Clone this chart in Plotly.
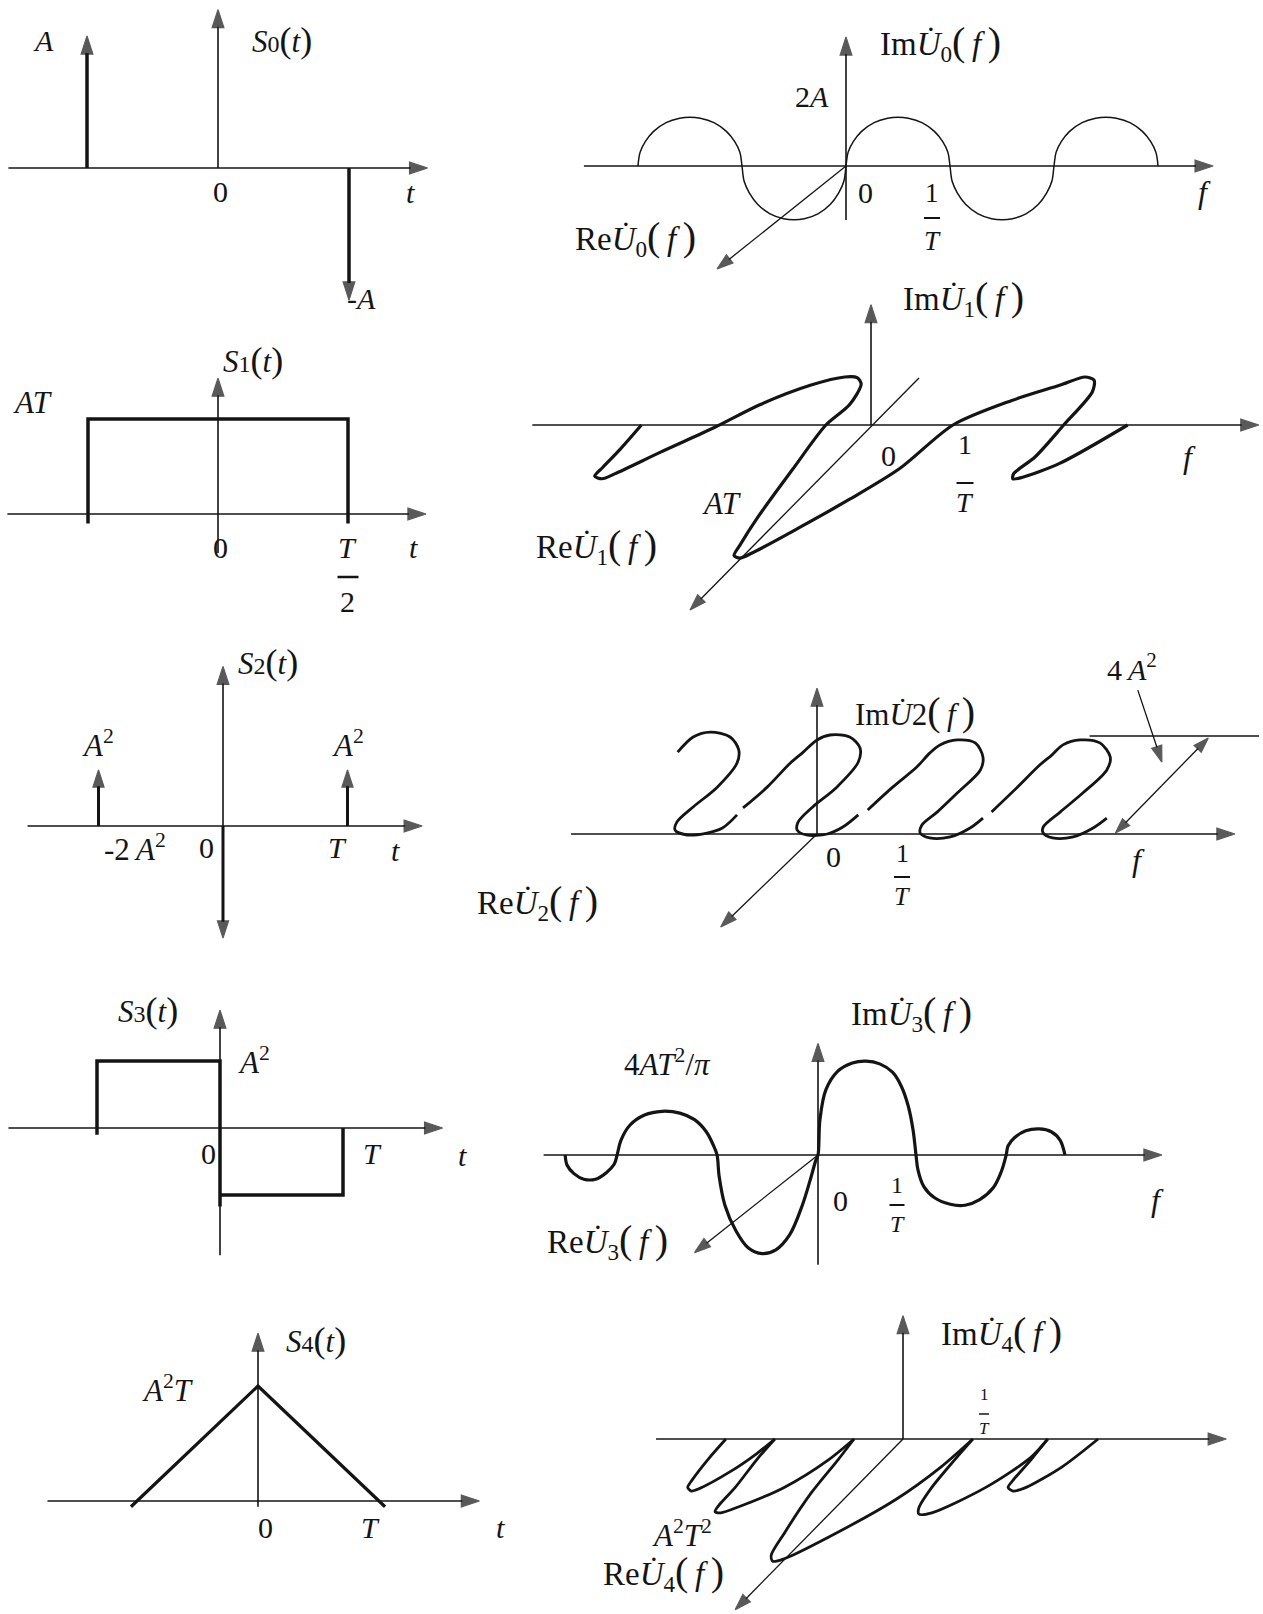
import plotly.graph_objects as go

W, H = 1263, 1614
SERIF = "Liberation Serif"
INK = "#141414"

# ---------------- time-domain signals (t in units of T) ----------------
s0_t = [-1.0, 1.0]                 # impulse instants
s0_w = [1.0, -1.0]                 # impulse weights, units of A

s1_t = [-0.5, -0.5, 0.5, 0.5]      # rectangular pulse corners
s1_v = [-0.1, 1.0, 1.0, -0.1]      # units of AT

s2_t = [-1.0, 0.0, 1.0]
s2_w = [1.0, -2.0, 1.0]            # units of A^2

s3_t = [-1.0, -1.0, 0.0, 0.0, 0.0, 1.0, 1.0]
s3_v = [-0.1, 1.0, 1.0, -1.17, -1.0, -1.0, 0.0]   # units of A^2

s4_t = [-1.05, 0.0, 1.05]
s4_v = [-0.05, 1.0, -0.05]         # units of A^2 T

# ---------------- spectra (f in units of 1/T) ----------------
# U0: alternating half-waves between the zeros
u0_starts = [-2.0, -1.0, 0.0, 1.0, 2.0]
u0_peaks = [1.95, -2.15, 1.95, -2.15, 1.95]       # units of A
u0_arc_u = [0.0, 0.02, 0.07, 0.15, 0.27, 0.40, 0.50, 0.60, 0.73, 0.85, 0.93, 0.98, 1.0]
u0_arc_h = [0.0, 0.28, 0.50, 0.71, 0.89, 0.98, 1.00, 0.98, 0.89, 0.71, 0.50, 0.28, 0.0]

# U1: sinc-type curve drawn in the oblique (f, Re) plane
u1_f = [-2.80, -3.06, -3.27, -3.37, -3.28, -3.12, -2.56, -1.91, -1.35, -0.74,
        -0.32, -0.17, -0.12, -0.26, -0.55, -0.96, -1.38, -1.60, -1.67, -1.60,
        -1.45, -0.87, -0.26, 0.35, 1.00, 1.71, 2.30, 2.61, 2.72, 2.70,
        2.35, 2.00, 1.74, 1.73, 1.84, 2.30, 3.13]
u1_v = [0.00, -0.19, -0.33, -0.40, -0.42, -0.38, -0.21, -0.02, 0.16, 0.31,
        0.375, 0.37, 0.32, 0.16, 0.00, -0.35, -0.72, -0.94, -1.02, -1.04,
        -1.00, -0.80, -0.58, -0.34, 0.00, 0.19, 0.31, 0.375, 0.35, 0.26,
        0.00, -0.25, -0.38, -0.42, -0.41, -0.30, 0.00]

# U2: helix coils (gaps where the curve passes behind)
u2_f = [-1.62, -1.44, -1.24, -1.01, -0.91, -0.93, -1.16, -1.44, -1.63, -1.65, -1.51, -1.28, -1.10, -0.93, None,
        -0.86, -0.58, -0.31, -0.16, 0.00, 0.15, 0.38, 0.50, 0.48, 0.23, -0.05, -0.22, -0.23, -0.12, 0.12, 0.30, 0.48, None,
        0.59, 0.88, 1.16, 1.31, 1.43, 1.63, 1.84, 1.93, 1.90, 1.63, 1.40, 1.22, 1.20, 1.31, 1.55, 1.78, 1.93, None,
        2.03, 2.33, 2.59, 2.73, 2.86, 3.06, 3.29, 3.41, 3.37, 3.09, 2.83, 2.63, 2.63, 2.74, 2.98, 3.21, 3.37]
u2_v = [2.48, 2.94, 3.09, 2.94, 2.55, 2.15, 1.42, 0.82, 0.36, 0.12, -0.03, 0.03, 0.18, 0.58, None,
        0.79, 1.42, 2.15, 2.48, 2.85, 3.00, 2.94, 2.61, 2.18, 1.42, 0.82, 0.36, 0.12, -0.03, 0.00, 0.21, 0.58, None,
        0.73, 1.42, 2.03, 2.45, 2.70, 2.85, 2.76, 2.33, 1.94, 1.24, 0.67, 0.27, 0.03, -0.12, -0.09, 0.18, 0.48, None,
        0.67, 1.42, 2.09, 2.39, 2.70, 2.85, 2.76, 2.33, 1.94, 1.24, 0.67, 0.21, 0.03, -0.12, -0.09, 0.18, 0.48]
u2_ref_f = [3.17, 5.14]            # level of the coil tops
u2_ref_v = [2.97, 2.97]

# U3: imaginary spectrum, units of 4AT^2/pi
u3_f = [-2.58, -2.56, -2.49, -2.39, -2.27, -2.16, -2.08, -2.05,
        -2.01, -1.92, -1.77, -1.59, -1.41, -1.26, -1.14, -1.07, -1.03,
        -1.01, -0.95, -0.84, -0.71, -0.57, -0.43, -0.29, -0.16, -0.08, -0.02, 0.00,
        0.02, 0.08, 0.20, 0.35, 0.49, 0.63, 0.76, 0.85, 0.92, 0.97, 1.00,
        1.02, 1.08, 1.19, 1.35, 1.50, 1.65, 1.79, 1.87, 1.92,
        1.94, 2.01, 2.12, 2.26, 2.38, 2.47, 2.52]
u3_v = [0.00, -0.11, -0.20, -0.26, -0.26, -0.19, -0.10, 0.00,
        0.16, 0.32, 0.43, 0.47, 0.45, 0.38, 0.25, 0.11, 0.00,
        -0.22, -0.54, -0.81, -1.00, -1.06, -1.02, -0.86, -0.54, -0.27, -0.05, 0.00,
        0.38, 0.70, 0.90, 0.99, 1.01, 0.98, 0.89, 0.74, 0.53, 0.27, 0.00,
        -0.16, -0.34, -0.46, -0.53, -0.54, -0.48, -0.35, -0.18, 0.00,
        0.10, 0.19, 0.26, 0.28, 0.25, 0.16, 0.00]

# U4: sinc^2 lobes in the oblique (f, Re) plane, units of A^2 T^2
u4_f = [-2.46, -2.71, -2.93, -2.99, -2.94, -2.83, -2.40, -2.03, -1.78, None,
        -1.78, -2.03, -2.33, -2.56, -2.61, -2.53, -2.28, -1.65, -1.03, -0.68, None,
        -0.68, -0.90, -1.28, -1.65, -1.83, -1.81, -1.65, -1.03, -0.10, 0.53, 0.97, None,
        0.97, 0.72, 0.40, 0.22, 0.22, 0.40, 1.15, 1.78, 2.01, None,
        2.01, 1.78, 1.53, 1.46, 1.53, 1.71, 2.21, 2.71]
u4_v = [0.00, -0.17, -0.34, -0.40, -0.43, -0.41, -0.27, -0.12, 0.00, None,
        0.00, -0.17, -0.40, -0.55, -0.60, -0.61, -0.56, -0.40, -0.17, 0.00, None,
        0.00, -0.17, -0.45, -0.78, -0.96, -1.01, -0.99, -0.81, -0.50, -0.23, 0.00, None,
        0.00, -0.17, -0.40, -0.57, -0.62, -0.61, -0.40, -0.15, 0.00, None,
        0.00, -0.17, -0.34, -0.40, -0.43, -0.40, -0.23, 0.00]

# ---------------- panel frames: origin pixel and pixels per unit ----------------
PANELS = ["L0", "L1", "L2", "L3", "L4", "R0", "R1", "R2", "R3", "R4"]
FRAME = {
    "L0": (218, 168, 131, 132),
    "L1": (218, 514, 260, 95),
    "L2": (223, 826, 124.5, 56),
    "L3": (220, 1128, 123, 67),
    "L4": (258, 1501, 121, 115),
    "R0": (846, 166, 104, 25),
    "R1": (871, 425, 82, 128),
    "R2": (817, 834, 86, 33),
    "R3": (818, 1155, 98, 93),
    "R4": (903, 1439, 72, 121),
}
AX = {}
layout_axes = {}
for i, name in enumerate(PANELS, start=1):
    xa = "x" if i == 1 else f"x{i}"
    ya = "y" if i == 1 else f"y{i}"
    AX[name] = (xa, ya)
    ox, oy, sx, sy = FRAME[name]
    layout_axes["xaxis" if i == 1 else f"xaxis{i}"] = dict(
        domain=[0, 1], range=[-ox / sx, (W - ox) / sx], visible=False,
        fixedrange=True, anchor=ya)
    layout_axes["yaxis" if i == 1 else f"yaxis{i}"] = dict(
        domain=[0, 1], range=[-(H - oy) / sy, oy / sy], visible=False,
        fixedrange=True, anchor=xa)

fig = go.Figure()


def curve(panel, xs, ys, width=3.4, spline=False, smoothing=1.0):
    xa, ya = AX[panel]
    line = dict(color=INK, width=width)
    if spline:
        line.update(shape="spline", smoothing=smoothing)
    fig.add_trace(go.Scatter(x=xs, y=ys, mode="lines", line=line,
                             xaxis=xa, yaxis=ya, hoverinfo="skip",
                             showlegend=False))


def arrow(panel, x0, y0, x1, y1, width=1.6, head=19):
    """Line from (x0, y0) with an arrow head whose tip sits on (x1, y1)."""
    xa, ya = AX[panel]
    fig.add_trace(go.Scatter(
        x=[x0, x1], y=[y0, y1], mode="lines+markers",
        line=dict(color=INK, width=width),
        marker=dict(symbol="arrow", size=[0, head], angleref="previous",
                    color=INK, line=dict(color=INK, width=1.2)),
        xaxis=xa, yaxis=ya, hoverinfo="skip", showlegend=False))


def arrow_both(panel, x0, y0, x1, y1, width=1.3, head=16):
    xm, ym = (x0 + x1) / 2, (y0 + y1) / 2
    arrow(panel, xm, ym, x0, y0, width, head)
    arrow(panel, xm, ym, x1, y1, width, head)


annotations = []
shapes = []


def text(px, py, s, size=30):
    annotations.append(dict(
        x=px / W, y=1 - py / H, xref="paper", yref="paper", text=s,
        showarrow=False, xanchor="center", yanchor="middle",
        font=dict(family=SERIF, size=size, color=INK)))


def frac(px, py_num, py_bar, py_den, num, den, size=28, bar=18, bw=2.0):
    text(px, py_num, num, size)
    text(px, py_den, den, size)
    shapes.append(dict(type="line", xref="paper", yref="paper",
                       x0=(px - bar / 2) / W, x1=(px + bar / 2) / W,
                       y0=1 - py_bar / H, y1=1 - py_bar / H,
                       line=dict(color=INK, width=bw)))


TH = "\u2009"


def big(ch, size=40):
    return f"<span style='font-size:{size}px'>{ch}</span>"


def s_label(k):
    return (f"<i>S</i><span style='font-size:24px'>{k}</span>"
            f"{big('(', 36)}<i>t</i>{big(')', 36)}")


def spec_label(part, k, sub=True):
    idx = f"<sub>{k}</sub>" if sub else k
    return f"{part}<i>U\u0307</i>{idx}{big('(')}{TH}<i>f</i>{TH}{big(')')}"


# ================= S0(t) =================
arrow("L0", -1.60, 0, 1.60, 0)
arrow("L0", 0, 0, 0, 1.20)
for t, w in zip(s0_t, s0_w):
    arrow("L0", t, 0, t, w, width=3.5, head=19)
text(43, 40, "<i>A</i>")
text(282, 40, s_label("0"), 31)
text(220, 192, "0")
text(410, 193, "<i>t</i>")
text(362, 298, "-<i>A</i>")

# ================= S1(t) =================
arrow("L1", -0.81, 0, 0.80, 0)
arrow("L1", 0, -0.41, 0, 1.43)
curve("L1", s1_t, s1_v, width=3.5)
text(33, 402, "<i>AT</i>", 31)
text(253, 360, s_label("1"), 31)
text(220, 547, "0")
frac(348, 547, 577, 601, "<i>T</i>", "2", 30, bar=21, bw=2.5)
text(413, 547, "<i>t</i>")

# ================= S2(t) =================
arrow("L2", -1.57, 0, 1.60, 0)
arrow("L2", 0, 0, 0, 2.85)
for t, w in zip(s2_t, s2_w):
    arrow("L2", t, 0, t, w, width=3.0, head=18)
text(98, 744, "<i>A</i><sup>2</sup>", 31)
text(348, 744, "<i>A</i><sup>2</sup>", 31)
text(268, 662, s_label("2"), 31)
text(135, 847, "-2" + TH + "<i>A</i><sup>2</sup>", 31)
text(206, 847, "0")
text(337, 847, "<i>T</i>")
text(395, 850, "<i>t</i>")

# ================= S3(t) =================
arrow("L3", -1.72, 0, 1.81, 0)
arrow("L3", 0, -1.90, 0, 1.76)
curve("L3", s3_t, s3_v, width=3.5)
text(148, 1010, s_label("3"), 31)
text(254, 1060, "<i>A</i><sup>2</sup>", 31)
text(209, 1153, "0")
text(372, 1153, "<i>T</i>")
text(462, 1155, "<i>t</i>")

# ================= S4(t) =================
arrow("L4", -1.74, 0, 1.83, 0)
arrow("L4", 0, -0.05, 0, 1.46)
curve("L4", s4_t, s4_v, width=3.2)
text(316, 1340, s_label("4"), 31)
text(168, 1388, "<i>A</i><sup>2</sup><i>T</i>", 31)
text(265, 1527, "0")
text(370, 1527, "<i>T</i>")
text(500, 1527, "<i>t</i>")

# ================= U0(f) =================
u0_f, u0_v = [], []
for k, (f0, pk) in enumerate(zip(u0_starts, u0_peaks)):
    for j, (du, h) in enumerate(zip(u0_arc_u, u0_arc_h)):
        if k > 0 and j == 0:
            continue
        u0_f.append(f0 + du)
        u0_v.append(pk * h)
arrow("R0", -2.52, 0, 3.53, 0)
arrow("R0", 0, -2.16, 0, 5.16)
arrow("R0", 0, 0, -1.24, -4.12, width=1.3, head=17)
curve("R0", u0_f, u0_v, width=1.5, spline=True)
text(940, 43, spec_label("Im", "0"), 33)
text(812, 97, "2<i>A</i>", 30)
text(865, 193, "0")
frac(932, 193, 218, 241, "1", "<i>T</i>", 27, bar=16)
text(1204, 192, "<i>f</i>", 32)
text(635, 238, spec_label("Re", "0"), 33)

# ================= U1(f) =================
arrow("R1", -4.13, 0, 4.73, 0)
arrow("R1", 0, 0, 0, 0.94)
arrow("R1", 0.585, 0.367, -2.207, -1.445, width=1.3, head=17)
curve("R1", u1_f, u1_v, width=3.2, spline=True, smoothing=0.8)
text(963, 298, spec_label("Im", "1"), 33)
text(888, 455, "0")
frac(965, 444, 483, 502, "1", "<i>T</i>", 28, bar=17)
text(1189, 457, "<i>f</i>", 32)
text(722, 503, "<i>AT</i>", 31)
text(596, 546, spec_label("Re", "1"), 33)

# ================= U2(f) =================
arrow("R2", -2.86, 0, 4.86, 0)
arrow("R2", 0, 0, 0, 4.42)
arrow("R2", 0, 0, -1.12, -2.82, width=1.3, head=17)
curve("R2", u2_f, u2_v, width=2.8, spline=True, smoothing=0.9)
curve("R2", u2_ref_f, u2_ref_v, width=1.6)
arrow_both("R2", 3.47, 0.03, 4.55, 2.91)
arrow("R2", 3.73, 4.36, 4.01, 2.18, width=1.3, head=17)
text(915, 711, spec_label("Im", "2", sub=False), 31)
text(833, 856, "0")
frac(902, 853, 877, 896, "1", "<i>T</i>", 26, bar=16)
text(1138, 860, "<i>f</i>", 32)
text(537, 902, spec_label("Re", "2"), 33)
text(1132, 667, "4" + TH + "<i>A</i><sup>2</sup>", 30)

# ================= U3(f) =================
arrow("R3", -2.80, 0, 3.51, 0)
arrow("R3", 0, -1.18, 0, 1.20)
arrow("R3", 0, 0, -1.26, -1.05, width=1.3, head=17)
curve("R3", u3_f, u3_v, width=3.2, spline=True, smoothing=1.0)
text(911, 1013, spec_label("Im", "3"), 33)
text(668, 1062, "4<i>AT</i><sup>2</sup>/<i>\u03c0</i>", 31)
text(840, 1200, "0")
frac(897, 1185, 1205, 1224, "1", "<i>T</i>", 24, bar=15)
text(1157, 1200, "<i>f</i>", 32)
text(607, 1241, spec_label("Re", "3"), 33)

# ================= U4(f) =================
arrow("R4", -3.43, 0, 4.49, 0)
arrow("R4", 0, 0, 0, 1.02)
arrow("R4", 0, 0, -2.33, -1.41, width=1.3, head=17)
curve("R4", u4_f, u4_v, width=2.8, spline=True, smoothing=0.8)
text(1001, 1333, spec_label("Im", "4"), 33)
frac(984, 1394, 1414, 1428, "1", "<i>T</i>", 17, bar=10, bw=1.5)
text(682, 1533, "<i>A</i><sup>2</sup><i>T</i><sup>2</sup>", 31)
text(663, 1573, spec_label("Re", "4"), 33)

fig.update_layout(
    width=W, height=H,
    margin=dict(l=0, r=0, t=0, b=0, pad=0),
    paper_bgcolor="white", plot_bgcolor="rgba(0,0,0,0)",
    showlegend=False,
    annotations=annotations,
    shapes=shapes,
    **layout_axes,
)

fig.write_html("out.html")
